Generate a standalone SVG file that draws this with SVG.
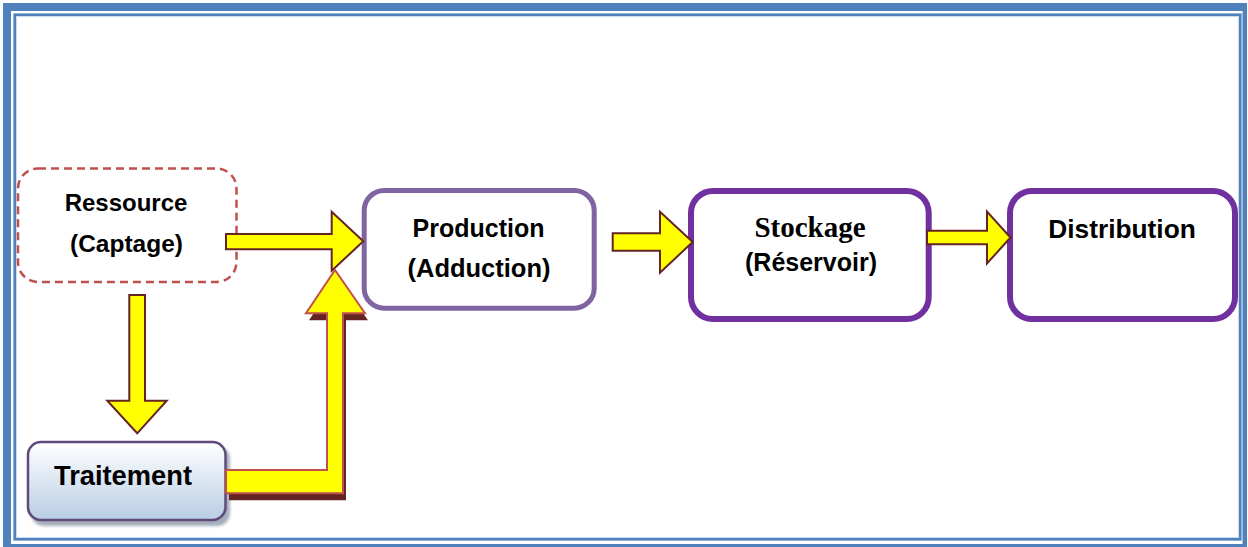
<svg xmlns="http://www.w3.org/2000/svg" width="1248" height="547" viewBox="0 0 1248 547">
<style>
.lbl{font-family:"Liberation Sans",Arial,sans-serif;font-weight:bold;fill:#000;text-anchor:middle}
.serif{font-family:"Liberation Serif","Times New Roman",serif;font-weight:bold;fill:#000;text-anchor:middle}
.arr{fill:#ffff00;stroke:#632423;stroke-width:2;stroke-linejoin:miter}
.box{fill:#fff}
</style>
<defs>
<linearGradient id="gT" x1="0" y1="0" x2="0" y2="1">
<stop offset="0" stop-color="#ffffff"/>
<stop offset="1" stop-color="#b9cde5"/>
</linearGradient>
<filter id="blur" x="-10%" y="-10%" width="120%" height="130%">
<feGaussianBlur stdDeviation="1.5"/>
</filter>
</defs>
<rect width="1248" height="547" fill="#fff"/>
<g id="frame">
<path d="M3 3H1247V547H3Z M11 11V544H1242.5V11Z" fill="#4f81bd" fill-rule="evenodd"/>
<rect x="14.7" y="14.7" width="1225.6" height="524.6" fill="none" stroke="#4f81bd" stroke-width="2.6"/>
<rect x="16.6" y="16.6" width="1221.8" height="520.8" fill="none" stroke="#c6d9f1" stroke-width="1"/>
</g>
<g id="ressource">
<rect x="18" y="168.5" width="218.5" height="113.5" rx="20" class="box" stroke="#c0504d" stroke-width="2.5" stroke-dasharray="8 5"/>
<text class="lbl" x="126" y="210.5" font-size="24">Ressource</text>
<text class="lbl" x="126.5" y="252" font-size="24.5">(Captage)</text>
</g>
<g id="production">
<rect x="364.2" y="190.5" width="230" height="117.7" rx="20" class="box" stroke="#8064a2" stroke-width="5"/>
<text class="lbl" x="478.5" y="237" font-size="25">Production</text>
<text class="lbl" x="479" y="277" font-size="25.5">(Adduction)</text>
</g>
<g id="stockage">
<rect x="691" y="191" width="237.7" height="128" rx="22" class="box" stroke="#7030a0" stroke-width="6"/>
<text class="serif" x="810" y="237" font-size="29">Stockage</text>
<text class="lbl" x="811" y="271" font-size="25">(Réservoir)</text>
</g>
<g id="distribution">
<rect x="1010" y="191" width="225" height="128" rx="22" class="box" stroke="#7030a0" stroke-width="6"/>
<text class="lbl" x="1122" y="238" font-size="26.3">Distribution</text>
</g>
<g id="traitement">
<rect x="31" y="446" width="199" height="80" rx="13" fill="#8e9aab" opacity="0.8" filter="url(#blur)"/>
<rect x="28" y="442" width="197.5" height="78" rx="13" fill="url(#gT)" stroke="#604a7b" stroke-width="2.5"/>
<text class="lbl" x="123" y="485" font-size="27.3">Traitement</text>
</g>
<g id="connectors">
<path class="arr" d="M226 234H331.7V211.7L363.3 241.3L331.7 270.7V249.3H226Z"/>
<path class="arr" d="M612.7 233.3H660V211.7L692.7 242L660 272.7V250.7H612.7Z"/>
<path class="arr" d="M927 230.7H987V211.7L1010.5 237.5L987 263.5V244.3H927Z"/>
<path class="arr" d="M129.3 295H145V400.7H166.7L137.2 433.3L107.3 400.7H129.3Z"/>
<path d="M229 477H330V320.3H309L338 277L368 320.3H346V500.3H229Z" fill="#632423"/>
<path d="M226 470H327V313.3H306L335 270L365 313.3H343V493.3H226Z" fill="#ffff00" stroke="#c0504d" stroke-width="2"/>
</g>
</svg>
